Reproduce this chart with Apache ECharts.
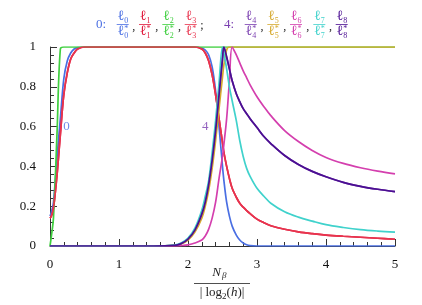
<!DOCTYPE html>
<html><head><meta charset="utf-8">
<script src="https://cdn.jsdelivr.net/npm/echarts@6.0.0/dist/echarts.min.js"></script>
<style>html,body{margin:0;padding:0;background:#fff}#c{width:422px;height:305px}</style>
</head><body><div id="c"></div>
<script>
// shared x samples (N_beta / |log2 h|)
const xs = [0,0.02,0.05,0.1,0.15,0.2,0.25,0.3,0.35,0.4,0.5,1,1.5,1.8,1.9,2.0,2.1,2.2,2.25,2.3,2.35,2.4,2.45,2.5,2.52,2.56,2.6,2.64,2.7,2.75,2.8,2.85,2.9,3.0,3.1,3.2,3.4,3.6,3.8,4.0,4.25,4.5,4.75,5.0];
const l0 = [0.15,0.17,0.22,0.44,0.64,0.84,0.93,0.97,0.99,0.997,1,1,1,1,1,1,1,0.995,0.985,0.96,0.9,0.78,0.6,0.4,0.33,0.22,0.15,0.1,0.055,0.03,0.015,0.006,0.002,0,0,0,0,0,0,0,0,0,0,0];
const l1 = [0.14,0.15,0.19,0.35,0.56,0.76,0.87,0.94,0.97,0.99,1,1,1,1,1,1,1,0.99,0.97,0.93,0.86,0.76,0.64,0.52,0.47,0.4,0.34,0.29,0.245,0.215,0.195,0.178,0.163,0.135,0.117,0.102,0.084,0.071,0.062,0.055,0.049,0.044,0.039,0.034];
const l2 = [0,0.05,0.14,0.55,0.99,1,1,1,1,1,1,1,1,1,1,1,1,1,1,1,1,1,1,1,1,1,1,1,1,1,1,1,1,1,1,1,1,1,1,1,1,1,1,1];
const l3 = [0.14,0.15,0.19,0.35,0.56,0.76,0.87,0.94,0.97,0.99,1,1,1,1,1,1,1,0.99,0.97,0.93,0.86,0.76,0.64,0.52,0.47,0.4,0.34,0.29,0.245,0.215,0.195,0.178,0.163,0.135,0.117,0.102,0.084,0.071,0.062,0.055,0.049,0.044,0.039,0.034];
const l4 = [0,0,0,0,0,0,0,0,0,0,0,0,0,0.003,0.012,0.035,0.08,0.16,0.22,0.31,0.43,0.58,0.76,0.94,1.0,0.95,0.89,0.83,0.765,0.725,0.69,0.665,0.64,0.595,0.55,0.515,0.455,0.41,0.375,0.348,0.32,0.3,0.285,0.273];
const l5 = [0,0,0,0,0,0,0,0,0,0,0,0,0,0.003,0.01,0.03,0.07,0.14,0.2,0.28,0.39,0.53,0.69,0.85,0.91,0.985,1,1,1,1,1,1,1,1,1,1,1,1,1,1,1,1,1,1];
const l6 = [0,0,0,0,0,0,0,0,0,0,0,0,0,0,0.002,0.006,0.015,0.03,0.05,0.085,0.14,0.22,0.34,0.45,0.51,0.64,0.83,1.0,0.96,0.92,0.88,0.845,0.81,0.75,0.7,0.655,0.58,0.525,0.48,0.445,0.415,0.393,0.376,0.362];
const l7 = [0,0,0,0,0,0,0,0,0,0,0,0,0,0.005,0.015,0.04,0.09,0.18,0.25,0.33,0.47,0.63,0.82,1.0,0.97,0.89,0.8,0.73,0.63,0.53,0.45,0.39,0.35,0.29,0.25,0.215,0.172,0.145,0.125,0.107,0.093,0.082,0.075,0.07];
const l8 = [0,0,0,0,0,0,0,0,0,0,0,0,0,0.003,0.012,0.035,0.08,0.16,0.22,0.31,0.43,0.58,0.76,0.94,1.0,0.95,0.89,0.83,0.765,0.725,0.69,0.665,0.64,0.595,0.55,0.515,0.455,0.41,0.375,0.348,0.32,0.3,0.285,0.273];
const seriesNames = ['ℓ0','ℓ1','ℓ2','ℓ3','ℓ4','ℓ5','ℓ6','ℓ7','ℓ8'];
const seriesData = [l0,l1,l2,l3,l4,l5,l6,l7,l8];
const groupLabels = ['0','4'];
const groupLabelX = [0.24, 2.25];
const groupLabelY = [0.6, 0.6];
const xTickValues = [0,1,2,3,4,5];
const yTickValues = [0,0.2,0.4,0.6,0.8,1];

const colors = ['#4a6fe3','#e0193c','#3fcf3f','#e8344e','#7a3fb0','#d6a92e','#d43fae','#40d2cc','#4b0f92'];
const SERIF = '"Liberation Serif","DejaVu Serif",serif';
const SCRIPT = '"DejaVu Serif",serif';
const chart = echarts.init(document.getElementById('c'), null, {renderer:'canvas'});

const series = seriesData.map((d,i)=>({
  name: seriesNames[i], type:'line', data: xs.map((x,j)=>[x,d[j]]),
  showSymbol:false, smooth:0.35, lineStyle:{color:colors[i], width:1.7}, itemStyle:{color:colors[i]},
  clip:true, z: 2+i, animation:false
}));
series.push({
  type:'scatter', symbolSize:0, animation:false, z:20,
  data: groupLabels.map((t,i)=>({value:[groupLabelX[i],groupLabelY[i]], label:{show:true, formatter:t, position:'inside', color: i===0?colors[0]:colors[4], fontFamily:SERIF, fontSize:13}}))
});

const g = [];
function txt(x,y,s,font,color,align){
  g.push({type:'text', x:x, y:y, style:{text:s, fill:color, font:font, textAlign:align||'center', textVerticalAlign:'middle'}, silent:true});
}
function line(x1,y1,x2,y2,color){
  g.push({type:'line', shape:{x1:x1,y1:y1,x2:x2,y2:y2}, style:{stroke:color, lineWidth:0.8}, silent:true});
}
function frac(cx, idx, color){
  txt(cx+1.5, 16.5, 'ℓ', '14px '+SCRIPT, color, 'right');
  txt(cx+1.5, 20.5, String(idx), '8px '+SERIF, color, 'left');
  line(cx-6, 24.5, cx+6, 24.5, color);
  txt(cx+1.5, 31.5, 'ℓ', '14px '+SCRIPT, color, 'right');
  txt(cx+1.5, 28.5, '*', '8px '+SERIF, color, 'left');
  txt(cx+1.5, 36, String(idx), '8px '+SERIF, color, 'left');
}
const fracX = [122.7,145,168.3,190.7,250.7,273.3,296,319.3,341.7];
txt(101, 25, '0:', '13px '+SERIF, colors[0], 'center');
txt(229, 25, '4:', '13px '+SERIF, colors[4], 'center');
fracX.forEach((cx,i)=>{
  frac(cx, i, colors[i]);
  if(i!==3 && i!==8) txt((cx+fracX[i+1])/2, 27, ',', '12px '+SERIF, '#222', 'center');
});
txt(202, 26, ';', '12px '+SERIF, '#222', 'center');
txt(221, 273, 'N', 'italic 13px '+SERIF, '#222', 'right');
txt(222, 276, 'β', 'italic 9px '+SERIF, '#222', 'left');
line(194, 283.5, 250, 283.5, '#222');
g.push({type:'text', x:222, y:293, style:{
  text:'{a|| log}{s|2}{a|(}{i|h}{a|)|}', textAlign:'center', textVerticalAlign:'middle',
  rich:{a:{font:'13px '+SERIF, fill:'#222', lineHeight:16, verticalAlign:'middle'},
        i:{font:'italic 13px '+SERIF, fill:'#222', lineHeight:16, verticalAlign:'middle'},
        s:{font:'9px '+SERIF, fill:'#222', lineHeight:9, verticalAlign:'bottom'}}
}, silent:true});

const axisCommon = {
  axisLine:{show:true, onZero:false, lineStyle:{color:'#333', width:1}},
  axisTick:{show:true, inside:true, length:7, lineStyle:{color:'#333', width:1}},
  minorTick:{show:true, splitNumber:5, length:4, lineStyle:{color:'#333', width:1}},
  splitLine:{show:false}, minorSplitLine:{show:false},
  axisLabel:{color:'#111', fontFamily:SERIF, fontSize:13}
};
chart.setOption({
  animation:false,
  backgroundColor:'#fff',
  grid:{left:50, right:27, top:47, bottom:59, containLabel:false},
  xAxis: Object.assign({type:'value', min:xTickValues[0], max:xTickValues[xTickValues.length-1], interval:1}, axisCommon,
    {axisLabel:Object.assign({}, axisCommon.axisLabel, {margin:12})}),
  yAxis: Object.assign({type:'value', min:yTickValues[0], max:yTickValues[yTickValues.length-1], interval:0.2}, axisCommon,
    {axisLabel:Object.assign({}, axisCommon.axisLabel, {margin:14})}),
  series: series,
  graphic: g
});
</script></body></html>
